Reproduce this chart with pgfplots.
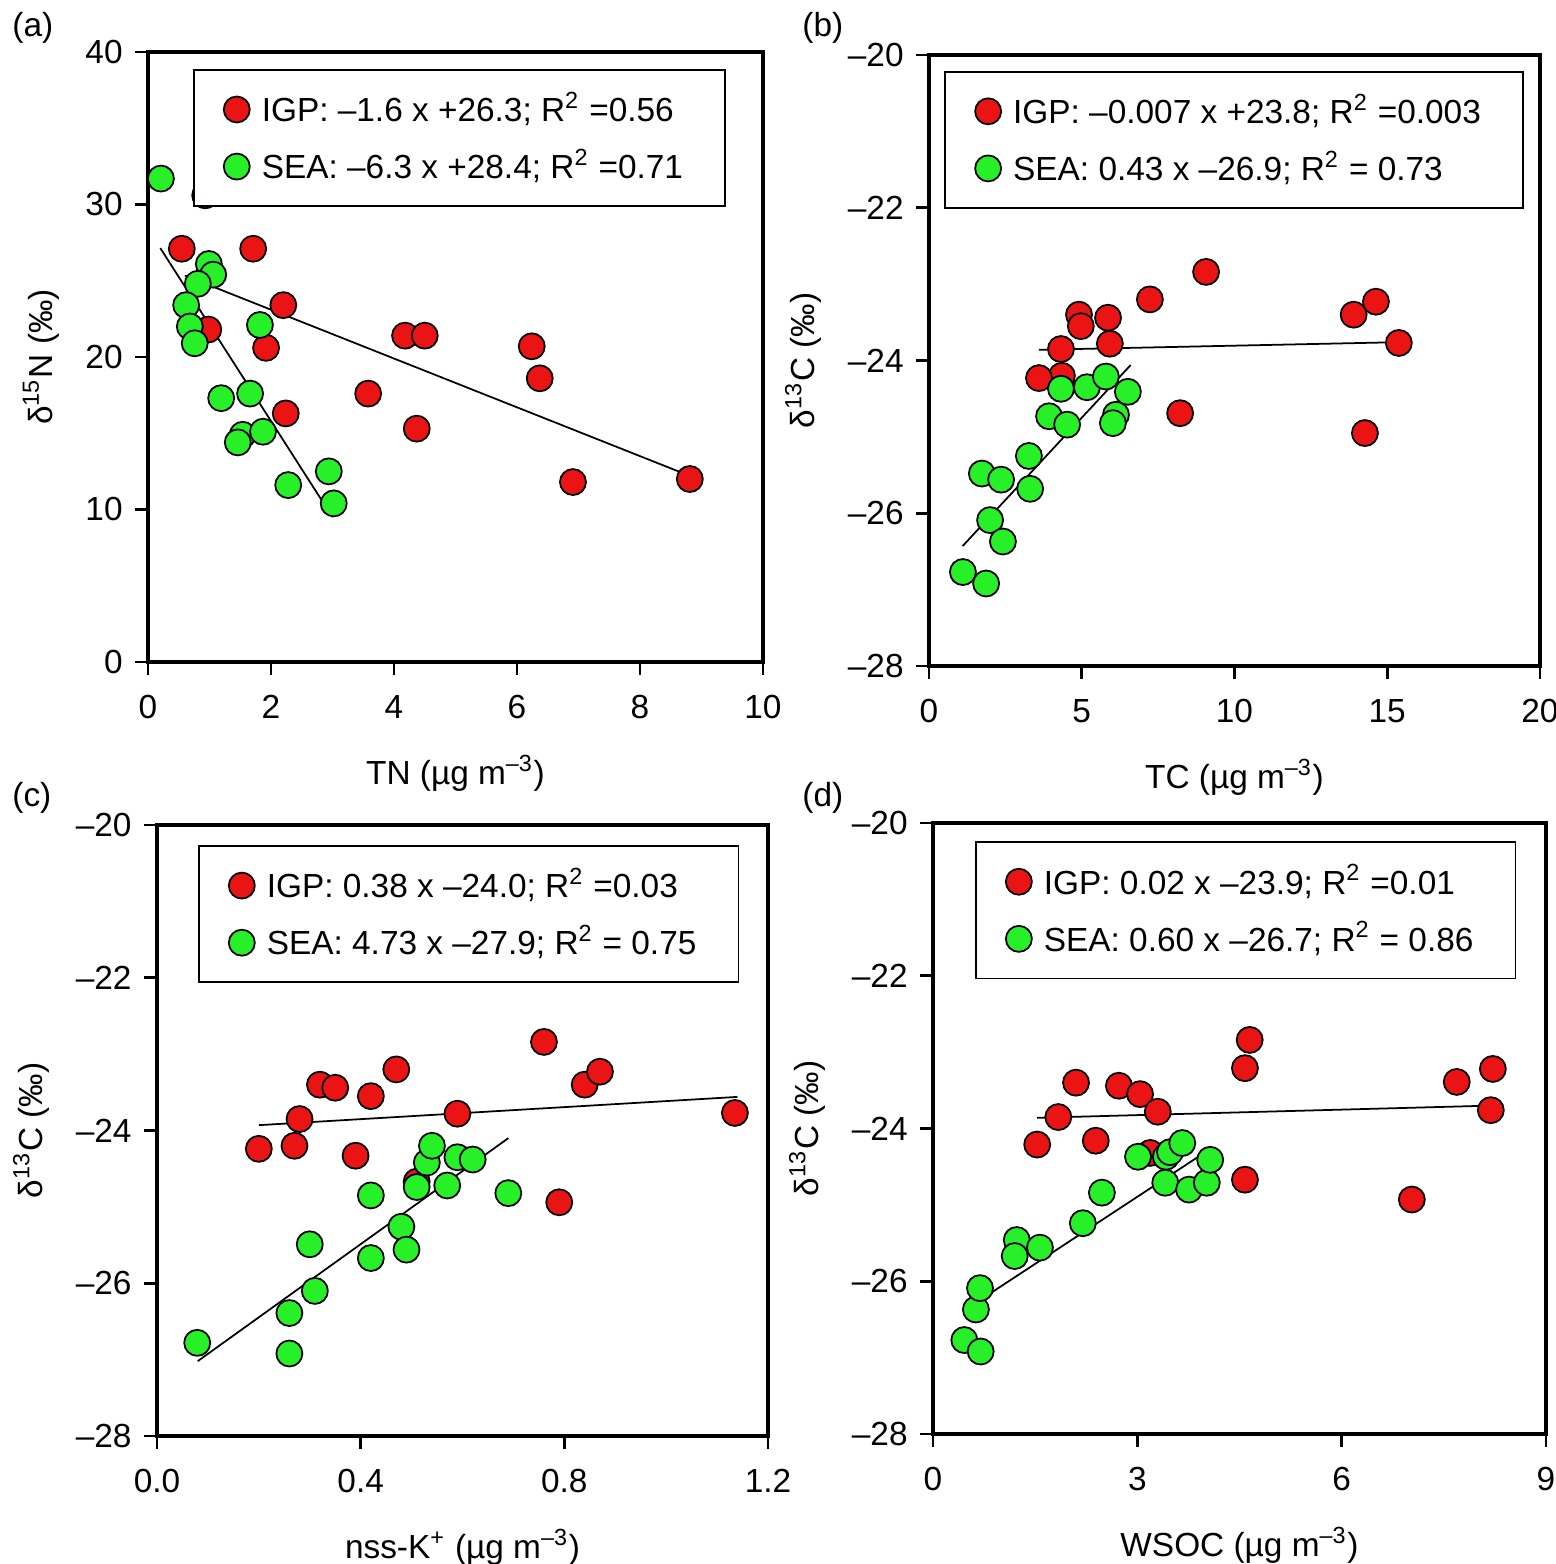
\documentclass[border=0pt]{standalone}
\usepackage{fontspec}
\setmainfont{Liberation Sans}
\usepackage{pgfplots}
\pgfplotsset{compat=1.18}
\definecolor{myred}{RGB}{235,20,20}
\definecolor{mygreen}{RGB}{40,240,40}
\pgfplotsset{
  panel/.style={
    scale only axis, axis line style={line width=1.3pt},
    /pgf/number format/assume math mode=true,
    tick align=outside, xtick pos=left, ytick pos=left,
    major tick length=0.13cm, tick style={line width=0.8pt, black},
    ticklabel style={font=\fontsize{9.5}{11}\selectfont},
    xticklabel style={yshift=-0.08cm},
    label style={font=\fontsize{9.5}{11}\selectfont},
    xlabel style={yshift=-0.12cm}, ylabel style={yshift=0.02cm},
    legend cell align=left,
    legend style={draw=black, line width=0.5pt, anchor=north west,
      font=\fontsize{9.5}{11}\selectfont, row sep=0.08cm,
      inner xsep=0.3cm, inner ysep=0.15cm,
      nodes={inner xsep=0.12cm}},
  },
  igp/.style={only marks, mark=*, mark size=3.7pt, mark options={fill=myred, draw=black, line width=0.5pt}},
  sea/.style={only marks, mark=*, mark size=3.7pt, mark options={fill=mygreen, draw=black, line width=0.5pt}},
  fit/.style={black, line width=0.5pt, forget plot},
}
\begin{document}
\begin{tikzpicture}
\useasboundingbox (0,0) rectangle (15.56,15.64);
\node[anchor=north west, font=\fontsize{9.5}{11}\selectfont] at (0,15.64) {(a)};
\node[anchor=north west, font=\fontsize{9.5}{11}\selectfont] at (7.9,15.64) {(b)};
\node[anchor=north west, font=\fontsize{9.5}{11}\selectfont] at (0,7.94) {(c)};
\node[anchor=north west, font=\fontsize{9.5}{11}\selectfont] at (7.9,7.94) {(d)};
% (a)
\begin{axis}[panel, at={(1.48cm,9.02cm)}, anchor=south west, width=6.15cm, height=6.10cm,
  xmin=0, xmax=10, ymin=0, ymax=40, xtick={0,2,4,6,8,10}, ytick={0,10,20,30,40},
  xlabel={TN (µg m\textsuperscript{–3})}, ylabel={δ\textsuperscript{15}N (‰)},
  legend style={at={(0.073,0.972)}}]
\addplot[igp] coordinates {(0.55,27.1)(0.93,30.6)(1.71,27.1)(0.98,21.8)(2.2,23.4)(1.92,20.6)(2.24,16.3)(3.58,17.6)(4.18,21.4)(4.5,21.4)(4.37,15.3)(6.24,20.7)(6.37,18.6)(6.91,11.8)(8.81,12.0)};
\addlegendentry{IGP: –1.6 x +26.3; R\textsuperscript{2} =0.56}
\addplot[sea] coordinates {(0.21,31.7)(0.99,26.1)(1.06,25.4)(0.81,24.8)(0.62,23.4)(0.68,22.0)(0.76,20.9)(1.82,22.1)(1.19,17.3)(1.66,17.6)(1.54,14.9)(1.46,14.4)(1.87,15.1)(2.28,11.6)(2.94,12.5)(3.02,10.4)};
\addlegendentry{SEA: –6.3 x +28.4; R\textsuperscript{2} =0.71}
\addplot[fit] coordinates {(0.6,25.34)(8.8,12.22)};
\addplot[fit] coordinates {(0.2,27.14)(3.0,9.5)};
\end{axis}
% (b)
\begin{axis}[panel, at={(9.29cm,8.98cm)}, anchor=south west, width=6.11cm, height=6.11cm,
  xmin=0, xmax=20, ymin=-28, ymax=-20, xtick={0,5,10,15,20}, ytick={-28,-26,-24,-22,-20},
  yticklabels={–28,–26,–24,–22,–20},
  xlabel={TC (µg m\textsuperscript{–3})}, ylabel={δ\textsuperscript{13}C (‰)},
  legend style={at={(0.025,0.974)}}]
\addplot[igp] coordinates {(4.32,-23.85)(4.35,-24.2)(3.6,-24.23)(4.91,-23.4)(4.97,-23.55)(5.86,-23.44)(5.92,-23.78)(7.23,-23.2)(9.07,-22.84)(8.22,-24.69)(13.9,-23.4)(14.63,-23.23)(15.38,-23.77)(14.27,-24.95)};
\addlegendentry{IGP: –0.007 x +23.8; R\textsuperscript{2} =0.003}
\addplot[sea] coordinates {(1.73,-25.48)(2.36,-25.56)(2.0,-26.09)(2.42,-26.37)(1.11,-26.77)(1.87,-26.92)(3.27,-25.25)(3.31,-25.68)(3.93,-24.73)(4.32,-24.37)(4.52,-24.84)(5.17,-24.35)(5.79,-24.21)(6.12,-24.71)(6.02,-24.82)(6.51,-24.41)};
\addlegendentry{SEA: 0.43 x –26.9; R\textsuperscript{2} = 0.73}
\addplot[fit] coordinates {(3.6,-23.86)(15.4,-23.76)};
\addplot[fit] coordinates {(1.1,-26.43)(6.6,-24.06)};
\end{axis}
% (c)
\begin{axis}[panel, at={(1.57cm,1.28cm)}, anchor=south west, width=6.11cm, height=6.11cm,
  xmin=0, xmax=1.2, ymin=-28, ymax=-20, xtick={0,0.4,0.8,1.2}, xticklabels={0.0,0.4,0.8,1.2},
  ytick={-28,-26,-24,-22,-20}, yticklabels={–28,–26,–24,–22,–20},
  xlabel={nss-K\textsuperscript{+} (µg m\textsuperscript{–3})}, ylabel={δ\textsuperscript{13}C (‰)},
  legend style={at={(0.067,0.967)}}]
\addplot[igp] coordinates {(0.2,-24.24)(0.27,-24.2)(0.28,-23.85)(0.32,-23.4)(0.35,-23.44)(0.42,-23.55)(0.39,-24.33)(0.47,-23.2)(0.59,-23.78)(0.51,-24.67)(0.76,-22.84)(0.84,-23.4)(0.87,-23.23)(0.79,-24.94)(1.135,-23.77)};
\addlegendentry{IGP: 0.38 x –24.0; R\textsuperscript{2} =0.03}
\addplot[sea] coordinates {(0.079,-26.78)(0.26,-26.92)(0.26,-26.39)(0.31,-26.1)(0.30,-25.49)(0.42,-25.67)(0.42,-24.85)(0.48,-25.26)(0.49,-25.56)(0.51,-24.74)(0.53,-24.42)(0.54,-24.2)(0.57,-24.72)(0.59,-24.35)(0.62,-24.38)(0.69,-24.82)};
\addlegendentry{SEA: 4.73 x –27.9; R\textsuperscript{2} = 0.75}
\addplot[fit] coordinates {(0.2,-23.93)(1.14,-23.56)};
\addplot[fit] coordinates {(0.08,-27.02)(0.69,-24.10)};
\end{axis}
% (d)
\begin{axis}[panel, at={(9.33cm,1.30cm)}, anchor=south west, width=6.13cm, height=6.11cm,
  xmin=0, xmax=9, ymin=-28, ymax=-20, xtick={0,3,6,9},
  ytick={-28,-26,-24,-22,-20}, yticklabels={–28,–26,–24,–22,–20},
  xlabel={WSOC (µg m\textsuperscript{–3})}, ylabel={δ\textsuperscript{13}C (‰)},
  legend style={at={(0.0685,0.97)}}]
\addplot[igp] coordinates {(1.53,-24.21)(1.84,-23.85)(2.1,-23.4)(2.39,-24.16)(2.73,-23.44)(3.04,-23.55)(3.19,-24.32)(3.3,-23.78)(4.58,-23.21)(4.65,-22.84)(4.58,-24.67)(7.03,-24.93)(7.69,-23.39)(8.22,-23.22)(8.19,-23.76)};
\addlegendentry{IGP: 0.02 x –23.9; R\textsuperscript{2} =0.01}
\addplot[sea] coordinates {(0.46,-26.77)(0.7,-26.92)(0.63,-26.37)(0.69,-26.09)(1.23,-25.46)(1.2,-25.67)(1.57,-25.56)(2.2,-25.24)(2.48,-24.84)(3.01,-24.37)(3.42,-24.37)(3.48,-24.31)(3.66,-24.19)(3.41,-24.71)(3.76,-24.8)(4.02,-24.71)(4.07,-24.41)};
\addlegendentry{SEA: 0.60 x –26.7; R\textsuperscript{2} = 0.86}
\addplot[fit] coordinates {(1.53,-23.86)(8.2,-23.70)};
\addplot[fit] coordinates {(0.65,-26.27)(4.1,-24.25)};
\end{axis}
\end{tikzpicture}
\end{document}
